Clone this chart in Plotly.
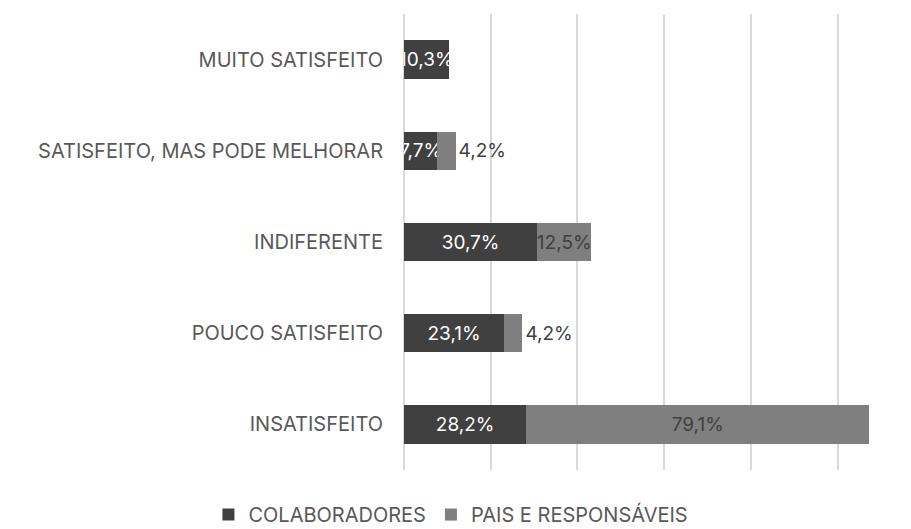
import plotly.graph_objects as go

categorias = ["MUITO SATISFEITO", "SATISFEITO, MAS PODE MELHORAR", "INDIFERENTE",
              "POUCO SATISFEITO", "INSATISFEITO"]
colaboradores = [10.3, 7.7, 30.7, 23.1, 28.2]
pais = [0, 4.2, 12.5, 4.2, 79.1]
ticks = [0, 20, 40, 60, 80, 100]


def fmt(v):
    return "" if v == 0 else f"{v:.1f}".replace(".", ",") + "%"


font = "Inter, Noto Sans, sans-serif"

fig = go.Figure()
fig.add_trace(go.Bar(
    y=categorias, x=colaboradores, orientation="h", name="COLABORADORES",
    marker=dict(color="#404040", line=dict(width=0)),
    text=[fmt(v) for v in colaboradores], textposition="inside", textangle=0,
    insidetextanchor="middle", constraintext="none",
    textfont=dict(color="white", size=19, family=font),
    hoverinfo="x+y",
))
# small shares sit outside the bar, like the source
pos_pais = ["outside" if v < 5 else "inside" for v in pais]
fig.add_trace(go.Bar(
    y=categorias, x=pais, orientation="h", name="PAIS E RESPONSÁVEIS",
    marker=dict(color="#7f7f7f", line=dict(width=0)),
    text=[fmt(v) for v in pais], textposition=pos_pais, textangle=0,
    insidetextanchor="middle", constraintext="none", cliponaxis=False,
    textfont=dict(color="#404040", size=19, family=font),
    hoverinfo="x+y",
))

# page body adds an 8px offset, so the figure is 8px smaller than the window
fig.update_layout(
    barmode="stack", bargap=0.58,
    width=903, height=521,
    margin=dict(l=396, r=30, t=6, b=59, autoexpand=False),
    plot_bgcolor="white", paper_bgcolor="white",
    font=dict(family=font, color="#595959", size=19),
    showlegend=True,
    # x < 0 so the legend may use the left margin without wrapping
    legend=dict(orientation="h", x=-0.41, xanchor="left",
                y=-0.055, yanchor="top",
                font=dict(size=20, color="#595959"), itemwidth=30,
                traceorder="normal"),
    xaxis=dict(range=[0, 110], tickvals=ticks, showticklabels=False,
               showgrid=True, gridcolor="#d9d9d9", gridwidth=1.5,
               zeroline=True, zerolinecolor="#d9d9d9", zerolinewidth=1.5, fixedrange=True),
    yaxis=dict(autorange="reversed", showgrid=False, ticks="", ticklabelstandoff=20,
               tickfont=dict(size=20, color="#595959"), automargin=False),
)

fig.write_html("out.html")
